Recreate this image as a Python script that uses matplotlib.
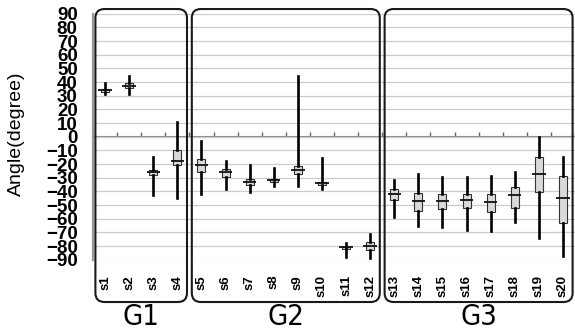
import numpy as np
import matplotlib.pyplot as plt
from matplotlib.patches import FancyBboxPatch
from matplotlib.transforms import blended_transform_factory, IdentityTransform

names = ['s%d' % i for i in range(1, 21)]
groups = ['G1', 'G2', 'G3']
group_members = [(1, 4), (5, 12), (13, 20)]

med = [34, 37, -26, -18, -21, -26, -33, -32, -24, -34,
       -81, -80, -42, -47, -47, -46, -48, -43, -27, -45]
q1 = [33, 35.5, -28, -21, -26, -29.5, -35, -33, -27.5, -35,
      -82, -83, -46, -54, -53, -52, -55, -52, -40.5, -63]
q3 = [35, 39.5, -24.5, -10, -16, -23.5, -31, -31, -21.5, -33.5,
      -80.5, -77, -38.5, -41, -42, -42, -42, -37, -15, -29]
whislo = [31, 31, -42.5, -45, -42, -38.5, -40.5, -36, -36, -38.5,
          -88, -89, -59, -65, -66, -68, -69, -62.5, -74, -87]
whishi = [39.5, 44.5, -14.5, 11, -3.5, -17.5, -21, -23, 44.5, -15.5,
          -77.5, -71.5, -32, -27, -29.5, -29.5, -28.5, -25.5, 0, -14.5]

plt.rcParams['font.family'] = ['Liberation Sans', 'DejaVu Sans']

fig = plt.figure(figsize=(5.75, 3.33), dpi=100)
ax = fig.add_axes([93/575, 73.3/333, 482/575, 246/333])

pos = np.arange(1, len(names) + 1)
stats = [dict(med=m, q1=a, q3=b, whislo=lo, whishi=hi, fliers=[])
         for m, a, b, lo, hi in zip(med, q1, q3, whislo, whishi)]
ax.bxp(stats, positions=pos, widths=0.33, patch_artist=True,
       showcaps=False, showfliers=False,
       boxprops=dict(facecolor='#d9d9d9', edgecolor='#333333', linewidth=0.8),
       whiskerprops=dict(color='black', linewidth=1.9),
       medianprops=dict(linewidth=0))
ax.hlines(med, pos - 0.28, pos + 0.28, color='#111111', linewidth=1.3, zorder=4)

ax.set_xlim(0.5, 20.5)
ax.set_ylim(-90, 90)
ax.set_yticks(np.arange(-90, 91, 10))
ax.yaxis.grid(True, color='#cccccc', linewidth=0.9)
ax.set_axisbelow(True)
ax.tick_params(axis='y', length=0, pad=11, labelsize=13.5)
for t in ax.get_yticklabels():
    t.set_fontweight('bold')
ax.set_xticks(pos, names, rotation=90, fontsize=9.5, fontweight='bold')
ax.tick_params(axis='x', length=0, pad=11)

for s in ['top', 'right', 'bottom']:
    ax.spines[s].set_visible(False)
ax.spines['left'].set_color('#999999')
ax.spines['left'].set_linewidth(1.6)

# zero line with small ticks at category boundaries
sec = ax.secondary_xaxis(0.5)
sec.set_xticks(np.arange(0.5, 21, 1))
sec.set_xticklabels([])
sec.tick_params(direction='out', length=3.5, width=1, color='#666666')
for s in sec.spines.values():
    s.set_color('#888888')
    s.set_linewidth(1.5)
sec.set_zorder(0)

fig.text(16/575, 1 - 134/333, 'Angle(degree)', rotation=90,
         ha='center', va='center', fontsize=14)

# rounded group frames
trans = blended_transform_factory(ax.transData, ax.transAxes)
for g, (a, b) in zip(groups, group_members):
    x0, y0 = trans.transform((a - 0.4, -0.172))
    x1, y1 = trans.transform((b + 0.4, 1.019))
    box = FancyBboxPatch((x0, y0), x1 - x0, y1 - y0,
                         boxstyle='round,pad=0,rounding_size=9',
                         transform=IdentityTransform(), fill=False,
                         edgecolor='#1a1a1a', linewidth=1.5, zorder=5)
    fig.patches.append(box)
    ax.text((a + b) / 2, -0.232, g, transform=trans, ha='center', va='center',
            fontsize=21, family='DejaVu Sans', fontstretch='condensed')

plt.savefig('out.png', dpi=100)
